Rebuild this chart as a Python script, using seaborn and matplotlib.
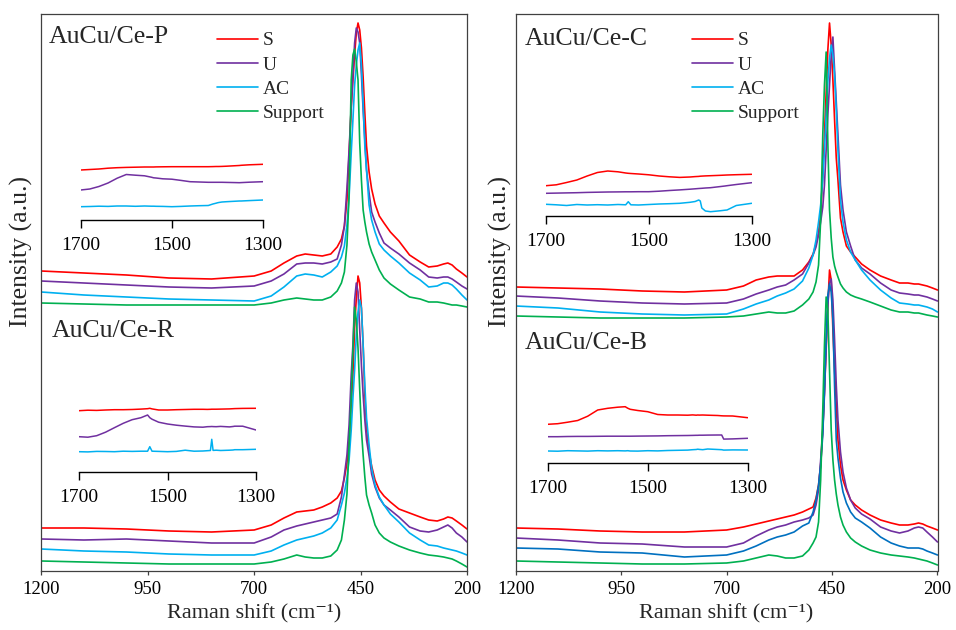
import matplotlib
matplotlib.use("Agg")
import matplotlib.pyplot as plt
import numpy as np
import pandas as pd
import seaborn as sns

sns.set_style("ticks")
plt.rcParams["font.family"] = ["Liberation Serif", "DejaVu Serif"]

# ---------------- data ----------------
SAMPLES = ["S", "U", "AC", "Support"]
XTICKS = [1200, 950, 700, 450, 200]
INSET_TICKS = [1700, 1500, 1300]
PANEL_LABELS = ["AuCu/Ce-P", "AuCu/Ce-R", "AuCu/Ce-C", "AuCu/Ce-B"]

SHIFT = [1200, 1100, 1000, 900, 800, 700, 660, 630, 600, 580, 560, 540, 520, 505, 495,
         488, 482, 477, 472, 468, 464, 460, 456, 452, 448, 444, 440, 436, 430, 424,
         416, 406, 395, 380, 360, 335, 310, 290, 270, 255, 245, 235, 225, 212, 200]

# AuCu/Ce-P (top left)
P_S = [300, 298, 296, 293, 292, 295, 300, 308, 315, 317, 316, 315, 317, 324, 332,
       345, 371, 416, 464, 491, 516, 538, 548, 541, 523, 494, 458, 425, 399, 382,
       367, 355, 348, 339, 330, 316, 309, 304, 305, 307, 308, 306, 302, 298, 294]
P_U = [290, 288, 286, 284, 283, 285, 290, 297, 307, 308, 308, 307, 309, 312, 326,
       345, 383, 421, 464, 496, 528, 543, 539, 528, 496, 461, 431, 401, 378, 359,
       349, 338, 328, 323, 317, 308, 301, 294, 293, 294, 294, 292, 289, 285, 282]
P_AC = [279, 276, 274, 272, 271, 270, 275, 284, 295, 297, 296, 294, 299, 305, 314,
        325, 346, 374, 418, 451, 486, 506, 521, 528, 506, 468, 425, 401, 366, 351,
        339, 327, 321, 315, 308, 298, 291, 284, 285, 288, 288, 286, 282, 276, 271]
P_SUP = [268, 267, 266, 266, 266, 266, 268, 271, 273, 272, 271, 271, 274, 280, 288,
         299, 326, 376, 491, 516, 522, 509, 491, 428, 391, 361, 349, 339, 327, 319,
         311, 301, 293, 287, 281, 274, 272, 269, 269, 268, 267, 266, 266, 265, 264]

# AuCu/Ce-R (bottom left)
R_S = [43, 43, 42, 40, 39, 41, 46, 53, 59, 60, 61, 64, 68, 73, 80,
       93, 108, 131, 166, 196, 244, 273, 295, 288, 263, 226, 176, 143, 119, 105,
       91, 81, 75, 69, 62, 58, 54, 51, 50, 52, 54, 53, 50, 46, 42]
R_U = [32, 31, 32, 30, 28, 28, 34, 41, 45, 47, 49, 51, 53, 57, 74,
       96, 116, 146, 196, 226, 271, 288, 279, 241, 206, 176, 151, 131, 115, 97,
       84, 73, 66, 61, 54, 44, 40, 39, 41, 44, 46, 43, 38, 34, 29]
R_AC = [22, 20, 19, 17, 16, 16, 20, 26, 31, 33, 35, 38, 43, 51, 66,
        78, 93, 111, 141, 173, 201, 236, 259, 271, 263, 226, 186, 153, 126, 103,
        86, 74, 66, 57, 49, 38, 31, 26, 25, 23, 22, 21, 20, 18, 16]
R_SUP = [10, 9, 8, 7, 7, 7, 9, 12, 16, 14, 13, 13, 15, 21, 31,
         51, 77, 126, 173, 221, 264, 251, 223, 181, 141, 116, 94, 76, 66, 58,
         46, 38, 33, 29, 25, 21, 18, 16, 15, 14, 13, 12, 10, 7, 4]

# AuCu/Ce-C (top right)
C_S = [284, 283, 282, 280, 279, 281, 285, 291, 294, 295, 295, 295, 301, 309, 317,
       327, 339, 356, 396, 436, 478, 521, 548, 526, 491, 451, 413, 391, 353, 339,
       325, 319, 314, 307, 301, 295, 291, 288, 288, 287, 287, 286, 285, 283, 281]
C_U = [275, 273, 270, 268, 267, 268, 272, 277, 281, 284, 286, 291, 297, 308, 316,
       324, 336, 349, 364, 386, 421, 456, 486, 516, 534, 501, 469, 436, 386, 361,
       339, 325, 311, 303, 297, 288, 281, 278, 277, 276, 276, 275, 274, 272, 270]
C_AC = [265, 263, 259, 257, 256, 257, 262, 267, 271, 275, 278, 282, 290, 303, 316,
        331, 349, 366, 391, 421, 456, 489, 513, 526, 516, 496, 461, 421, 371, 349,
        331, 319, 311, 301, 291, 281, 273, 268, 267, 266, 266, 265, 264, 262, 259]
C_SUP = [255, 254, 253, 253, 253, 254, 255, 257, 259, 258, 258, 260, 266, 272, 279,
         289, 306, 351, 436, 486, 519, 428, 361, 333, 314, 305, 299, 294, 287, 283,
         279, 276, 274, 272, 269, 265, 261, 259, 259, 258, 258, 257, 256, 255, 254]

# AuCu/Ce-B (bottom right)
B_S = [43, 42, 40, 39, 39, 41, 44, 47, 50, 52, 54, 56, 59, 62, 64,
       73, 86, 106, 141, 181, 221, 266, 301, 291, 241, 201, 166, 131, 106, 91,
       81, 71, 66, 61, 56, 51, 48, 46, 46, 47, 48, 47, 45, 43, 41]
B_U = [33, 31, 28, 27, 24, 24, 28, 35, 41, 44, 46, 49, 51, 53, 56,
       66, 81, 111, 141, 176, 226, 266, 288, 292, 271, 231, 186, 151, 119, 99,
       83, 71, 63, 57, 52, 44, 40, 38, 40, 43, 44, 43, 39, 34, 29]
B_AC = [23, 22, 19, 18, 14, 16, 20, 25, 31, 34, 36, 39, 45, 48, 59,
        71, 86, 106, 136, 181, 231, 276, 287, 279, 251, 185, 131, 113, 93, 79,
        68, 59, 53, 49, 43, 34, 28, 25, 23, 23, 23, 22, 20, 18, 16]
B_SUP = [10, 9, 8, 7, 7, 8, 10, 13, 16, 15, 13, 13, 15, 21, 28,
         34, 49, 91, 161, 226, 274, 261, 201, 141, 111, 91, 77, 66, 54, 46,
         39, 33, 29, 25, 21, 18, 16, 15, 14, 13, 12, 11, 10, 8, 6]

# insets (1700-1300 cm-1)
INSET_SHIFT = [1700, 1680, 1660, 1640, 1620, 1600, 1580, 1560, 1545, 1540, 1535, 1520, 1500, 1480,
               1460, 1440, 1420, 1410, 1403, 1400, 1397, 1390, 1380, 1360, 1352, 1348, 1330, 1300]
IP_S = [50, 50.5, 51, 51.8, 52.3, 52.6, 52.8, 53, 53, 53, 53.1, 53.2, 53.3, 53.3,
        53.3, 53.3, 53.3, 53.4, 53.5, 53.5, 53.5, 53.6, 53.8, 54.3, 54.5, 54.7, 55.2, 55.7]
IP_U = [30, 31, 33.5, 37, 41.8, 45.5, 44.8, 44.2, 42.8, 42.2, 42, 41.2, 40.8, 39.6,
        38.3, 38, 37.7, 37.7, 37.7, 37.7, 37.7, 37.7, 37.6, 37.4, 37.3, 37.4, 37.8, 38.3]
IP_AC = [13.3, 13.5, 13.8, 13.6, 14, 14, 13.7, 14, 13.8, 13.8, 13.7, 13.6, 13.3, 13.6,
         14, 14.3, 14.5, 16, 16.8, 17.2, 17.5, 18, 18.3, 18.8, 19, 19, 19.4, 20]
IR_S = [61, 61.5, 61.3, 61.7, 62, 62, 62.2, 62.6, 63, 63.4, 62.8, 61.7, 61.7, 62,
        62.2, 62.4, 62.4, 62.3, 62.4, 62.5, 62.5, 62.5, 62.6, 62.8, 63, 63.1, 63.3, 63.4]
IR_U = [35, 34.5, 36, 39.5, 44, 48.4, 52, 54, 56.7, 54, 52.5, 49.5, 47.7, 46.5,
        45.6, 44.8, 44.5, 45, 45.1, 45.2, 45.1, 45, 45.3, 44.8, 45.2, 45.5, 45.5, 41.7]
IR_AC = [20, 19.8, 20.3, 20.2, 20, 20.5, 20.3, 20.5, 20.5, 25, 20.5, 20.3, 20, 20.3,
         21.5, 20.5, 20.7, 21, 21.2, 32.4, 21.3, 21.5, 21.2, 21.5, 21.7, 22, 22, 22.4]
IC_S = [30.3, 31.2, 33.5, 36, 40, 43.5, 45, 44.2, 43, 42.7, 42.5, 42, 41.2, 40,
        39.2, 38.6, 39, 39.4, 39.6, 39.8, 39.9, 40.1, 40.3, 40.7, 40.9, 41, 41.3, 41.7]
IC_U = [22.7, 22.9, 23.1, 23.3, 23.6, 23.8, 24, 24.1, 24.2, 24.2, 24.2, 24.3, 24.3, 24.8,
        25.5, 26.1, 26.8, 27.2, 27.5, 27.6, 27.7, 28, 28.3, 29.5, 30, 30.3, 31.5, 33.3]
IC_AC = [11.7, 11.2, 10.5, 11.5, 11, 11.3, 11, 11.5, 11.2, 14.3, 11.2, 11, 11.5, 12,
         12.3, 12.7, 13.7, 14.5, 16, 15, 8, 5, 4.3, 5.3, 5.8, 6, 10.5, 12.7]
IB_S = [38.4, 39, 40.5, 42.2, 46.5, 52.7, 54.4, 55.5, 56, 54.5, 53.4, 52.2, 51, 48.2,
        47.7, 47.7, 47.5, 47.8, 47.5, 47.7, 47.6, 47.7, 47.5, 47.2, 46.9, 46.8, 46.7, 45]
IB_U = [26, 26, 26.2, 26.3, 26.3, 26.4, 26.5, 26.5, 26.5, 26.5, 26.5, 26.6, 26.7, 26.8,
        27, 27.1, 27.2, 27.3, 27.4, 27.4, 27.5, 27.5, 27.6, 27.7, 27.7, 23.6, 23.8, 24.4]
IB_AC = [11.7, 11.5, 12, 11.8, 11.6, 12, 11.8, 12, 11.8, 12, 11.7, 11.6, 12, 11.8,
         12.2, 12.4, 12.6, 13, 13.2, 13.5, 13.3, 13, 13.7, 13.2, 13, 12.6, 12.8, 12.7]

# ---------------- styling ----------------
COL = {"S": "#FF0000", "U": "#7030A0", "AC": "#00B0F0", "Support": "#00B050"}
COL_B = dict(COL, AC="#0070C0")
FRAME = "#404040"

W, H = 956, 630
fig = plt.figure(figsize=(W / 100, H / 100), dpi=100)


def px_ax(l, r, top, bottom):
    return fig.add_axes([l / W, (H - bottom) / H, (r - l) / W, (bottom - top) / H])


def long_df(x, vals, names):
    frames = [pd.DataFrame({"shift": x, "intensity": v, "sample": s})
              for s, v in zip(names, vals)]
    return pd.concat(frames, ignore_index=True)


def draw(ax, x, vals, palette, names=SAMPLES, lw=1.2):
    sns.lineplot(data=long_df(x, vals, names), x="shift", y="intensity",
                 hue="sample", hue_order=names, palette=palette, sort=False,
                 estimator=None, legend=False, ax=ax, linewidth=lw)


def main_axes(l, r, top_vals, bot_vals, bot_pal, leg_x, ylab_x):
    ax = px_ax(l, r, 14, 571)
    draw(ax, SHIFT, top_vals, COL)
    draw(ax, SHIFT, bot_vals, bot_pal)
    ax.set_xlim(1200, 200)
    ax.set_ylim(0, 557)
    ax.set_yticks([])
    ax.set_xticks(XTICKS)
    ax.set_xticklabels([str(t) for t in XTICKS])
    ax.tick_params(axis="x", direction="out", length=3, width=0.9,
                   labelsize=13.5, pad=4.3, colors="black")
    ax.tick_params(axis="x", color=FRAME)
    for sp in ax.spines.values():
        sp.set_color(FRAME)
        sp.set_linewidth(0.9)
    ax.set_xlabel("Raman shift (cm\u207b\u00b9)", fontsize=16,
                  family=["Liberation Serif", "DejaVu Serif"])
    ax.xaxis.set_label_coords(0.5, -0.0595)
    ax.set_ylabel("Intensity (a.u.)", fontsize=18.5)
    ax.yaxis.set_label_coords(ylab_x, 0.573)
    lines = ax.get_lines()[:4]
    ax.legend(lines, SAMPLES, loc="upper left", bbox_to_anchor=(leg_x, 0.968),
              frameon=False, fontsize=14, handlelength=2.1, handletextpad=0.25,
              labelspacing=0.34, borderpad=0, borderaxespad=0)
    return ax


axL = main_axes(41.3, 467, [P_S, P_U, P_AC, P_SUP], [R_S, R_U, R_AC, R_SUP], COL,
                0.4127, -0.019)
axL.text(0.0164, 0.9474, PANEL_LABELS[0], transform=axL.transAxes, fontsize=18.5,
         ha="left", va="baseline")
axL.text(0.0244, 0.4207, PANEL_LABELS[1], transform=axL.transAxes, fontsize=18.5,
         ha="left", va="baseline")

axR = main_axes(515.7, 937.5, [C_S, C_U, C_AC, C_SUP], [B_S, B_U, B_AC, B_SUP], COL_B,
                0.4187, -0.009)
axR.text(0.022, 0.9443, PANEL_LABELS[2], transform=axR.transAxes, fontsize=18.5,
         ha="left", va="baseline")
axR.text(0.022, 0.398, PANEL_LABELS[3], transform=axR.transAxes, fontsize=18.5,
         ha="left", va="baseline")


def inset(l, r, spine_y, vals):
    ax = px_ax(l, r, spine_y - 70, spine_y)
    ax.patch.set_alpha(0)
    draw(ax, INSET_SHIFT, vals, COL, names=SAMPLES[:3], lw=1.1)
    ax.set_xlim(1700, 1300)
    ax.set_ylim(0, 70)
    ax.set_yticks([])
    ax.set_xticks(INSET_TICKS)
    ax.set_xticklabels([str(t) for t in INSET_TICKS])
    ax.set_xlabel("")
    ax.set_ylabel("")
    for side in ("top", "left", "right"):
        ax.spines[side].set_visible(False)
    ax.spines["bottom"].set_color("black")
    ax.spines["bottom"].set_linewidth(1.0)
    ax.tick_params(axis="x", direction="out", length=5.8, width=1.0,
                   labelsize=14, pad=6.5, colors="black")
    return ax


inset(80.7, 263, 220, [IP_S, IP_U, IP_AC])
inset(79, 256, 471.7, [IR_S, IR_U, IR_AC])
inset(546, 751.7, 216, [IC_S, IC_U, IC_AC])
inset(547.7, 747.7, 462.7, [IB_S, IB_U, IB_AC])

fig.savefig("out.png", dpi=100)
